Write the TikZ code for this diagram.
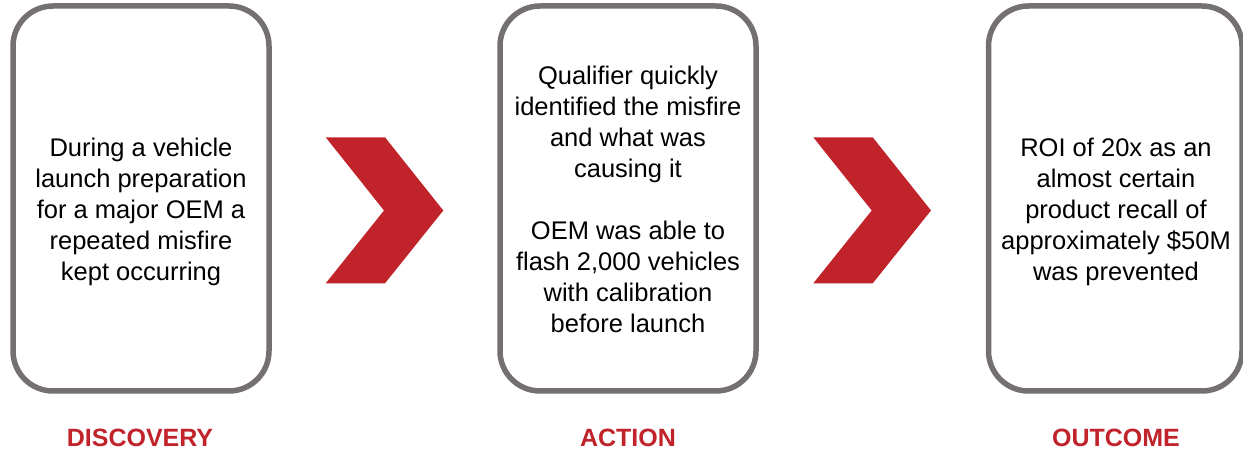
\documentclass[tikz,border=0pt]{standalone}
\usepackage{fontspec}
\setmainfont{Liberation Sans}
\definecolor{boxgrey}{RGB}{117,112,112}
\definecolor{chevred}{RGB}{193,35,42}
\begin{document}
\begin{tikzpicture}[x=1pt,y=-1pt,
  card/.style={draw=boxgrey,line width=5.5pt,rounded corners=40pt,inner sep=0pt,fill=white},
  body/.style={align=center,inner sep=0pt,font=\fontsize{25.5}{31}\selectfont,text=black},
  caption/.style={inner sep=0pt,font=\fontsize{25}{30}\selectfont\bfseries,text=chevred},
  chev/.style={fill=chevred,draw=none}]
\useasboundingbox (0,0) rectangle (1243,454);
% boxes
\node[card,minimum width=256pt,minimum height=385pt] (b1) at (141,198.5) {};
\node[card,minimum width=256pt,minimum height=385pt] (b2) at (628,198.5) {};
\node[card,minimum width=253.5pt,minimum height=385pt] (b3) at (1115.25,198.5) {};
% texts
\node[body] (t1) at (141,212) {During a vehicle\\launch preparation\\for a major OEM a\\repeated misfire\\kept occurring};
\node[body] (t2) at (628,199) {Qualifier quickly\\identified the misfire\\and what was\\causing it\\[31pt]OEM was able to\\flash 2,000 vehicles\\with calibration\\before launch};
\node[body] (t3) at (1116,212) {ROI of 20x as an\\almost certain\\product recall of\\approximately \$50M\\was prevented};
% chevrons
\fill[chev] (325.7,137.3) -- (385,137.3) -- (443.3,210.5) -- (385,283.3) -- (325.7,283.3) -- (384,210.5) -- cycle;
\fill[chev] (813.3,137.3) -- (872.7,137.3) -- (931,210.5) -- (872.7,283.3) -- (813.3,283.3) -- (871.7,210.5) -- cycle;
% captions
\node[caption] (c1) at (140,438) {DISCOVERY};
\node[caption] (c2) at (628,438) {ACTION};
\node[caption] (c3) at (1116,438) {OUTCOME};
\end{tikzpicture}
\end{document}
